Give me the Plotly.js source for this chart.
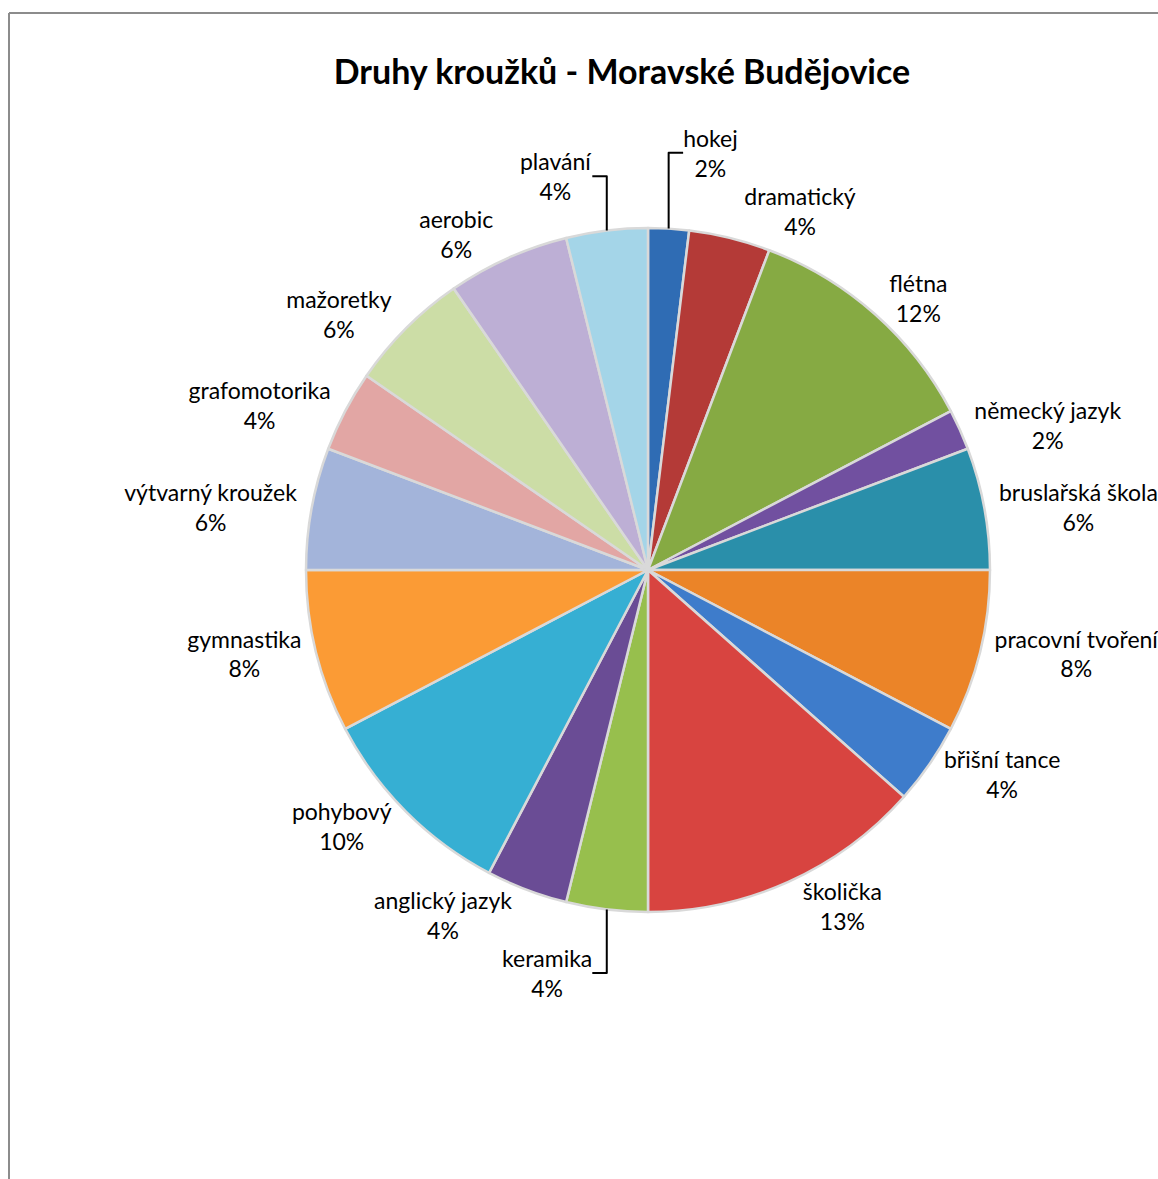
<!DOCTYPE html>
<html>
<head>
<meta charset="utf-8">
<script src="https://cdn.plot.ly/plotly-3.0.1.min.js"></script>
<style>
  html, body { margin: 0; padding: 0; background: #fff; overflow: hidden; }
  #chart { width: 1158px; height: 1179px; }
</style>
</head>
<body>
<div id="chart"></div>
<script>
// Data (counts; percentages shown are rounded shares)
const categories = [
  "hokej", "dramatický", "flétna", "německý jazyk", "bruslařská škola",
  "pracovní tvoření", "břišní tance", "školička", "keramika", "anglický jazyk",
  "pohybový", "gymnastika", "výtvarný kroužek", "grafomotorika", "mažoretky",
  "aerobic", "plavání"
];
const counts = [1, 2, 6, 1, 3, 4, 2, 7, 2, 2, 5, 4, 3, 2, 3, 3, 2];
const sliceColors = [
  "#2F6CB4", "#B43A37", "#86AA43", "#7150A0", "#2A8FAA",
  "#EB8428", "#3E7CCB", "#D84440", "#97BF4D", "#6A4C95",
  "#36AFD3", "#FB9B35", "#A3B4DA", "#E2A6A4", "#CCDDA6",
  "#BDAFD5", "#A4D5E8"
];

const W = 1158, H = 1179;
const cx = 648, cy = 570, R = 342;
const FONT = "Lato, 'Open Sans', sans-serif";

const trace = {
  type: "pie",
  labels: categories,
  values: counts,
  sort: false,
  direction: "clockwise",
  rotation: 0,
  marker: { colors: sliceColors, line: { color: "#D9D9D9", width: 2.5 } },
  textposition: "outside",
  texttemplate: "%{label}<br>%{percent:.0%}",
  textfont: { family: FONT, size: 23, color: "#000" },
  outsidetextfont: { family: FONT, size: 23, color: "#000" },
  automargin: false,
  hoverinfo: "label+percent",
  showlegend: false,
  domain: {
    x: [(cx - R) / W, (cx + R) / W],
    y: [(H - cy - R) / H, (H - cy + R) / H]
  }
};

const layout = {
  width: W, height: H,
  margin: { l: 0, r: 0, t: 0, b: 0 },
  paper_bgcolor: "#fff",
  showlegend: false,
  title: {
    text: "<b>Druhy kroužků - Moravské Budějovice</b>",
    font: { family: FONT, size: 34, color: "#000" },
    x: 622 / W, xanchor: "center", xref: "paper",
    y: 1 - 72 / H, yanchor: "middle", yref: "paper"
  },
  shapes: [
    { type: "line", xref: "paper", yref: "paper", x0: 9 / W, x1: 9 / W, y0: 0, y1: 1 - 13 / H,
      line: { color: "#8C8C8C", width: 2 } },
    { type: "line", xref: "paper", yref: "paper", x0: 9 / W, x1: 1.01, y0: 1 - 13 / H, y1: 1 - 13 / H,
      line: { color: "#8C8C8C", width: 2 } }
  ]
};

Plotly.newPlot("chart", [trace], layout, { displayModeBar: false, staticPlot: true });
</script>
</body>
</html>
